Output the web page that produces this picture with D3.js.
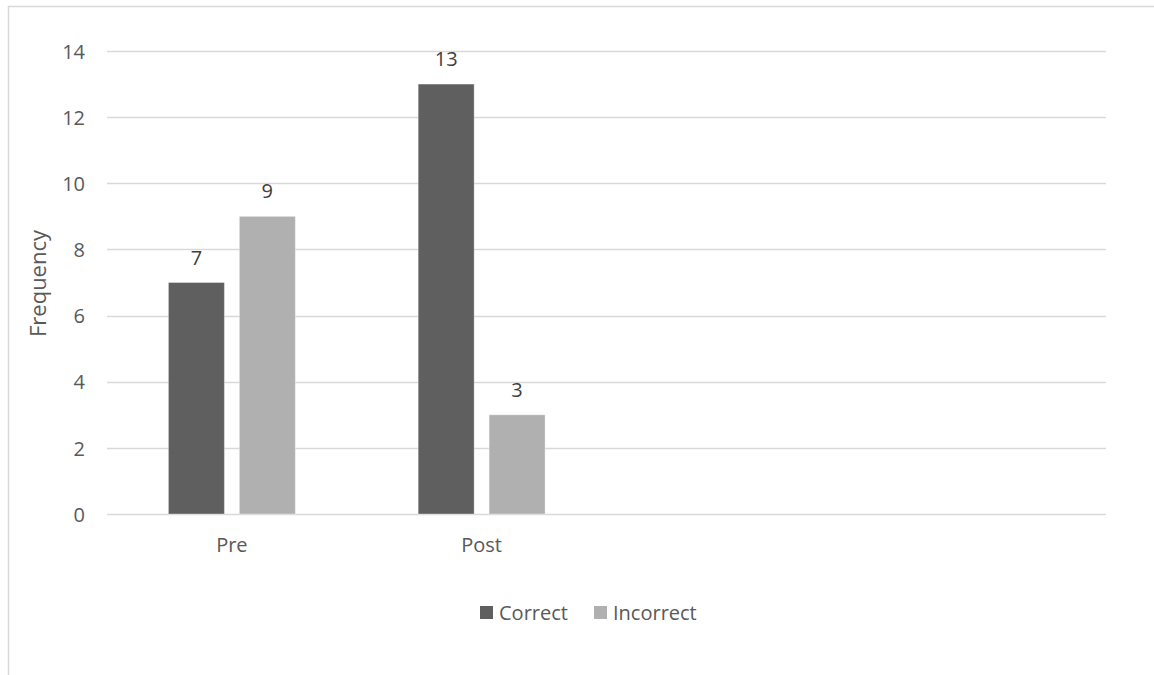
<!DOCTYPE html>
<html>
<head>
<meta charset="utf-8">
<script src="https://cdn.jsdelivr.net/npm/d3@7"></script>
<style>
  html, body { margin: 0; padding: 0; background: #fff; }
  svg { display: block; font-family: "Open Sans", "Liberation Sans", sans-serif; }
</style>
</head>
<body>
<svg id="chart" width="1154" height="675"></svg>
<script>
// Category slots (two trailing slots are left empty)
const categories = ["Pre", "Post", "", ""];
const seriesNames = ["Correct", "Incorrect"];
const correctValues = [7, 13, null, null];
const incorrectValues = [9, 3, null, null];
const yTicks = [0, 2, 4, 6, 8, 10, 12, 14];
const seriesColors = ["#5f5f5f", "#b0b0b0"];

const svg = d3.select("#chart");
const margin = { left: 107, right: 48, top: 51, bottom: 161 };
const W = 1154, H = 675;
const FONT = "'Open Sans', 'Liberation Sans', sans-serif";

// Outer chart frame (extends past the canvas on the right and bottom)
svg.append("rect")
  .attr("x", 8.5).attr("y", 6.5)
  .attr("width", 1200).attr("height", 700)
  .attr("fill", "none").attr("stroke", "#d9d9d9").attr("stroke-width", 1.5);

const x = d3.scaleBand()
  .domain(d3.range(categories.length))
  .range([margin.left, W - margin.right]);

const y = d3.scaleLinear()
  .domain([0, 14])
  .range([H - margin.bottom, margin.top]);

// Horizontal gridlines
svg.append("g")
  .selectAll("line")
  .data(yTicks)
  .join("line")
  .attr("x1", margin.left).attr("x2", W - margin.right)
  .attr("y1", d => Math.round(y(d)) + 0.5).attr("y2", d => Math.round(y(d)) + 0.5)
  .attr("stroke", "#d9d9d9").attr("stroke-width", 1.5);

// Y axis tick labels
const yAxis = d3.axisLeft(y).tickValues(yTicks).tickSize(0).tickPadding(0);
const gy = svg.append("g").attr("transform", `translate(${margin.left - 22},0)`).call(yAxis);
gy.select(".domain").remove();
gy.selectAll("text")
  .attr("font-size", 20).attr("fill", "#595959").attr("dy", "0.36em")
  .attr("font-family", FONT);

// X axis category labels
const xAxis = d3.axisBottom(x).tickFormat(i => categories[i]).tickSize(0).tickPadding(0);
const gx = svg.append("g").attr("transform", `translate(0,${H - margin.bottom + 24})`).call(xAxis);
gx.select(".domain").remove();
gx.selectAll("text")
  .attr("font-size", 20).attr("fill", "#595959")
  .attr("font-family", FONT);

// Y axis title
svg.append("text")
  .attr("transform", `translate(46,${(margin.top + H - margin.bottom) / 2 + 1}) rotate(-90)`)
  .attr("text-anchor", "middle")
  .attr("font-size", 22).attr("fill", "#595959")
  .text("Frequency");

// Bars within each category
const inner = d3.scaleBand()
  .domain(seriesNames)
  .range([0, x.bandwidth()])
  .paddingInner(0.211)
  .paddingOuter(0.866);

const seriesData = [correctValues, incorrectValues];
seriesNames.forEach((name, si) => {
  const rows = categories.map((c, i) => ({ i, v: seriesData[si][i] })).filter(d => d.v != null);
  const g = svg.append("g");
  g.selectAll("rect")
    .data(rows)
    .join("rect")
    .attr("x", d => x(d.i) + inner(name))
    .attr("width", inner.bandwidth())
    .attr("y", d => y(d.v))
    .attr("height", d => y(0) - y(d.v))
    .attr("fill", seriesColors[si])
    .attr("stroke", "#ffffff").attr("stroke-opacity", 0.35).attr("stroke-width", 1);
  g.selectAll("text")
    .data(rows)
    .join("text")
    .attr("x", d => x(d.i) + inner(name) + inner.bandwidth() / 2)
    .attr("y", d => y(d.v) - 18)
    .attr("text-anchor", "middle")
    .attr("font-size", 20).attr("fill", "#404040")
    .text(d => d.v);
});

// Legend
const legend = svg.append("g").attr("transform", "translate(480,620)");
const legendItems = [{ name: "Correct", dx: 0 }, { name: "Incorrect", dx: 114 }];
legendItems.forEach((it, i) => {
  legend.append("rect")
    .attr("x", it.dx).attr("y", -14)
    .attr("width", 13).attr("height", 13)
    .attr("fill", seriesColors[i]);
  legend.append("text")
    .attr("x", it.dx + 19).attr("y", 0)
    .attr("font-size", 20).attr("fill", "#595959")
    .text(it.name);
});
</script>
</body>
</html>
